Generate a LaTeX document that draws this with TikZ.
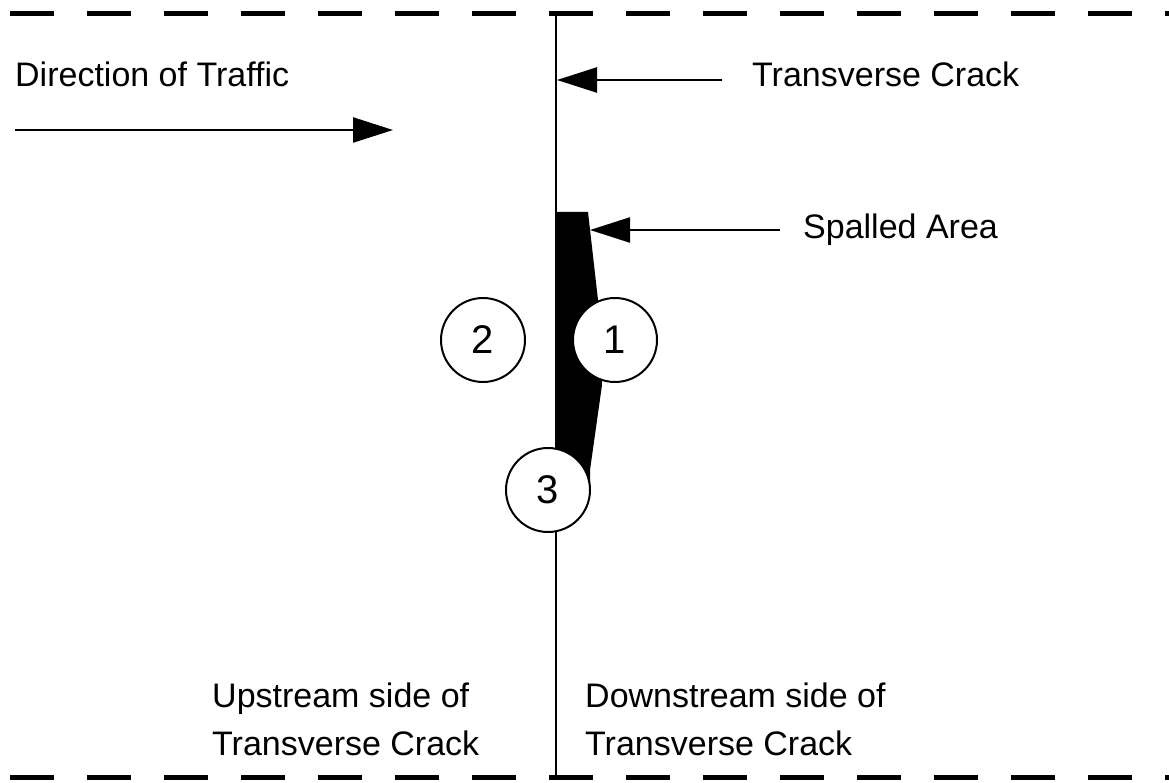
\documentclass[tikz,border=0pt]{standalone}
\usepackage{fontspec}
\setmainfont{Liberation Sans}
\usetikzlibrary{arrows.meta}

\begin{document}
\begin{tikzpicture}[x=1pt,y=-1pt,
  lanemark/.style={line width=5pt,dash pattern=on 44pt off 33pt},
  crackline/.style={line width=2.2pt},
  pointer/.style={line width=2.4pt,-{Triangle[length=40pt,width=25pt]}},
  label/.style={inner sep=0pt,font=\fontsize{34}{48}\selectfont},
  marker/.style={circle,draw,line width=2pt,fill=white,minimum size=84pt,
    inner sep=0pt,font=\fontsize{40}{40}\selectfont}]
  \useasboundingbox (0,0) rectangle (1169,783);

  % lane edges
  \coordinate (laneTL) at (10,14);
  \coordinate (laneTR) at (1169,14);
  \coordinate (laneBL) at (10,777);
  \coordinate (laneBR) at (1169,777);
  \draw[lanemark] (laneTL) -- (laneTR);
  \draw[lanemark] (laneBL) -- (laneBR);

  % transverse crack
  \coordinate (crackTop) at (556,14);
  \coordinate (crackBot) at (556,777);
  \draw[crackline] (crackTop) -- (crackBot);

  % spalled area
  \fill (556,212) -- (588,212) -- (598,300) -- (602,385) -- (590,470)
        -- (590,492) -- (556,492) -- cycle;

  % numbered positions
  \node[marker] (p1) at (615,340) {1};
  \node[marker] (p2) at (483,340) {2};
  \node[marker] (p3) at (548,490) {3};

  % labels
  \node[label,anchor=base west] (traffic) at (15,87) {Direction of Traffic};
  \node[label,anchor=base west] (crackLbl) at (752,87) {Transverse Crack};
  \node[label,anchor=base west] (spallLbl) at (803,239) {Spalled Area};
  \node[label,anchor=base west,align=left] (upLbl) at (212,755)
    {Upstream side of\\Transverse Crack};
  \node[label,anchor=base west,align=left] (downLbl) at (585,755)
    {Downstream side of\\Transverse Crack};

  % pointers
  \coordinate (trafficStart) at (15,130);
  \coordinate (trafficEnd) at (393,130);
  \draw[pointer] (trafficStart) -- (trafficEnd);

  \coordinate (crackFrom) at (722,80);
  \coordinate (crackTo) at (557,80);
  \draw[pointer] (crackFrom) -- (crackTo);

  \coordinate (spallFrom) at (780,230);
  \coordinate (spallTo) at (590,230);
  \draw[pointer] (spallFrom) -- (spallTo);
\end{tikzpicture}
\end{document}
